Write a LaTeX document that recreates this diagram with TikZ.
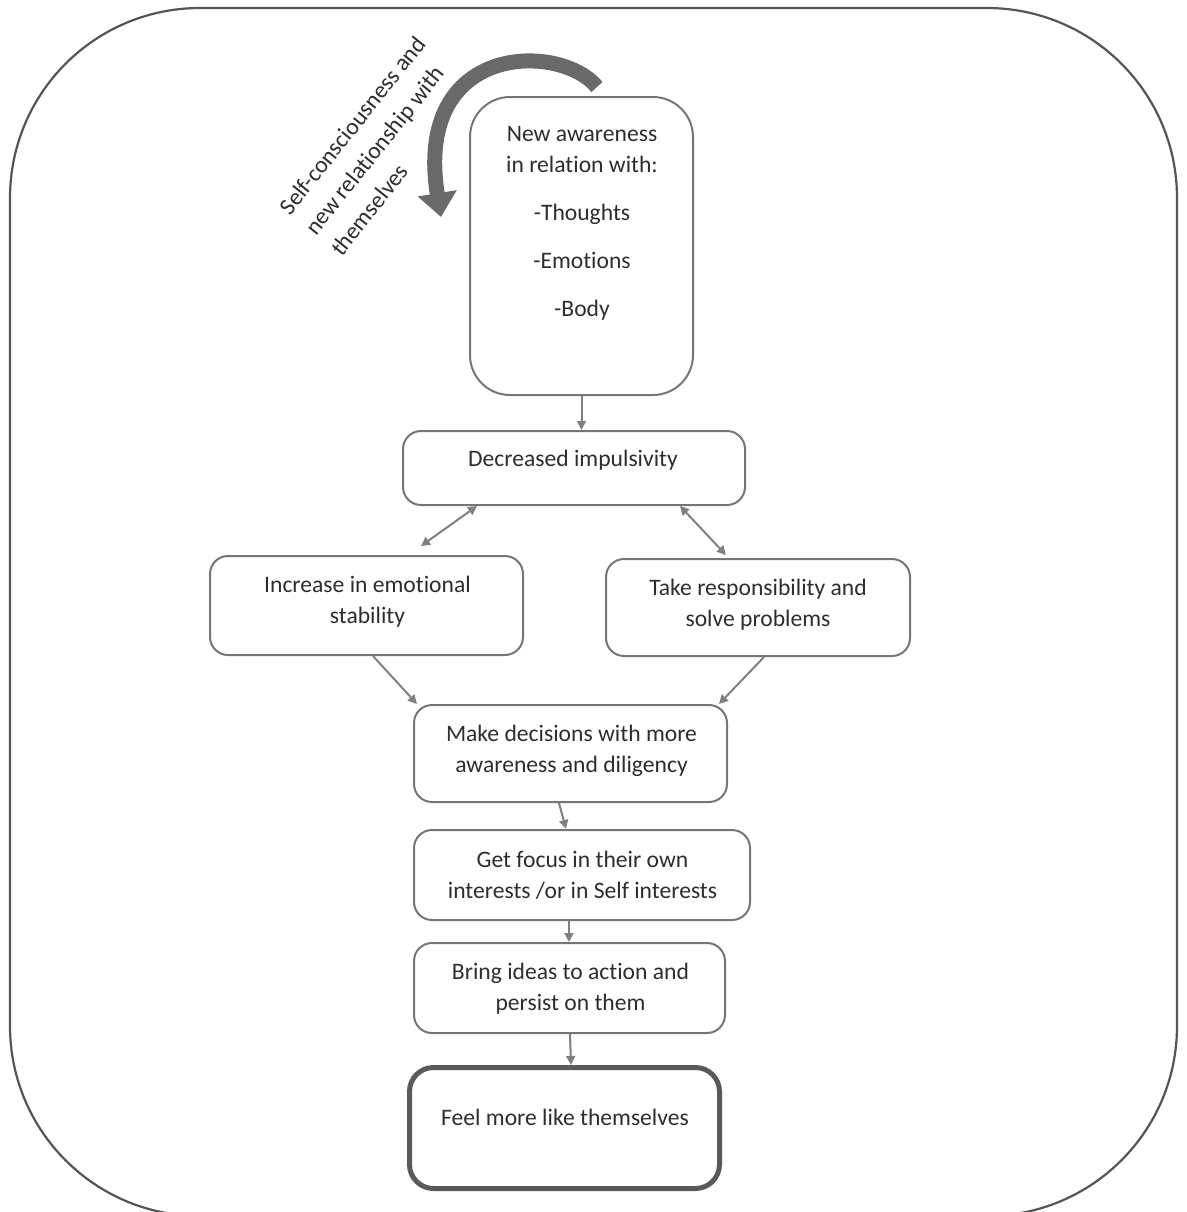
\documentclass[tikz,border=0pt]{standalone}
\usepackage{fontspec}
\setmainfont{Carlito}[Ligatures=NoCommon]
\usetikzlibrary{arrows.meta,calc}
\definecolor{boxgray}{RGB}{118,118,118}
\definecolor{arrgray}{RGB}{128,128,128}
\definecolor{txtcol}{RGB}{45,45,45}
\definecolor{bigarr}{RGB}{105,105,105}
\definecolor{framegray}{RGB}{85,85,85}
\definecolor{lastbox}{RGB}{90,90,90}
\begin{document}
\begin{tikzpicture}[x=0.5pt,y=-0.5pt,
  box/.style={draw=boxgray, line width=1pt, rounded corners=9pt, inner sep=0pt},
  txt/.style={text=txtcol, align=center, font=\fontsize{11.8pt}{15.5pt}\selectfont, inner sep=0pt},
  arr/.style={draw=arrgray, line width=1pt, -{Triangle[length=4.5pt,width=4.5pt]}},
  dbl/.style={draw=arrgray, line width=1pt, {Triangle[length=4.5pt,width=4.5pt]}-{Triangle[length=4.5pt,width=4.5pt]}}]

\useasboundingbox (0,0) rectangle (1187,1212);
\draw[framegray, line width=1.1pt, rounded corners=95pt] (10,8) rectangle (1177,1216);

% boxes
\node[box, rounded corners=20pt, minimum width=111.5pt, minimum height=149pt] (b1) at (581.5,246) {};
\node[box, minimum width=171pt, minimum height=37pt] (b2) at (574,468) {};
\node[box, minimum width=156.5pt, minimum height=49.5pt] (b3) at (366.5,605.5) {};
\node[box, minimum width=152pt, minimum height=48.5pt] (b4) at (758,607.5) {};
\node[box, minimum width=156.5pt, minimum height=48.5pt] (b5) at (570.5,753.5) {};
\node[box, minimum width=168pt, minimum height=45pt] (b6) at (582,875) {};
\node[box, minimum width=155.5pt, minimum height=45pt] (b7) at (569.5,988) {};
\node[box, draw=lastbox, line width=2.5pt, rounded corners=12pt, minimum width=155pt, minimum height=60.5pt] (b8) at (564.5,1128) {};

% texts
\node[txt] (t1) at (582,223) {New awareness\\in relation with:\\[8.5pt]-Thoughts\\[8.5pt]-Emotions\\[8.5pt]-Body};
\node[txt] (t2) at (573,460) {Decreased impulsivity};
\node[txt] (t3) at (367.5,601.5) {Increase in emotional\\stability};
\node[txt] (t4) at (758,604.5) {Take responsibility and\\solve problems};
\node[txt] (t5) at (571.5,750.5) {Make decisions with more\\awareness and diligency};
\node[txt] (t6) at (582.5,875.5) {Get focus in their own\\interests /or in Self interests};
\node[txt] (t7) at (570.5,988.5) {Bring ideas to action and\\persist on them};
\node[txt] (t8) at (565,1117) {Feel more like themselves};

% rotated label (left aligned)
\node[txt, align=left, font=\fontsize{11.8pt}{16.5pt}\selectfont, rotate=51.5, anchor=north west] (lbl) at (277,206) {Self-consciousness and\\new relationship with\\themselves};

% big curved arrow
\coordinate (ca) at (597,87);
\coordinate (cb) at (441,217);
\draw[bigarr, line width=7.5pt, -{Triangle[length=12pt,width=19pt]}] (ca) .. controls (560,42) and (413,42) .. (cb);

% connectors
\draw[arr] (b1.south) -- (b1.south |- b2.north);
\draw[dbl] ($(b2.south west)+(75,0)$) -- ($(b3.north west)+(212,-9)$);
\draw[dbl] ($(b2.south west)+(278,0)$) -- ($(b4.north west)+(121,-3)$);
\draw[arr] ($(b3.south west)+(164,0)$) -- ($(b5.north west)+(4,0)$);
\draw[arr] ($(b4.south west)+(159,0)$) -- ($(b5.north east)+(-9,0)$);
\draw[arr] ($(b5.south west)+(146,0)$) -- ($(b6.north west)+(153,0)$);
\draw[arr] ($(b6.south west)+(156,0)$) -- ($(b7.north west)+(156,0)$);
\draw[arr] ($(b7.south west)+(157,0)$) -- ($(b8.north west)+(164,0)$);
\end{tikzpicture}
\end{document}
